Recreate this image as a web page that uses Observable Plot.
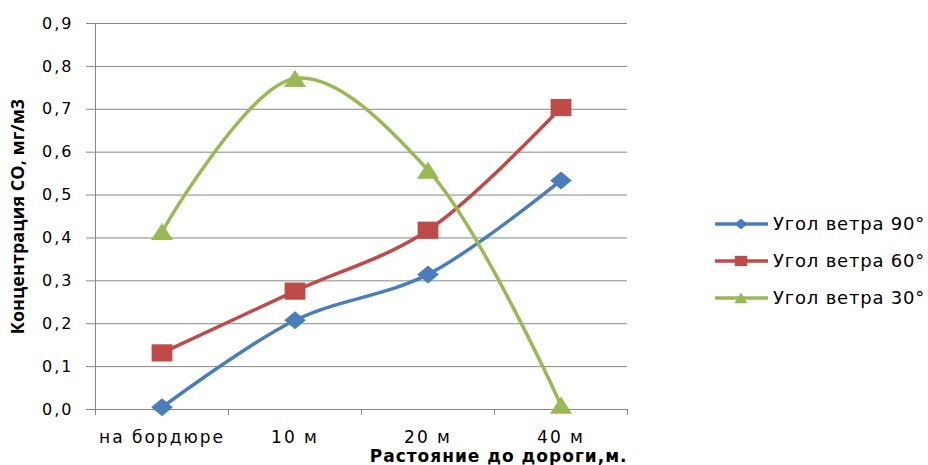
<!DOCTYPE html>
<html>
<head>
<meta charset="utf-8">
<script src="https://cdn.jsdelivr.net/npm/d3@7"></script>
<script src="https://cdn.jsdelivr.net/npm/@observablehq/plot@0.6"></script>
<style>
  html, body { margin: 0; padding: 0; background: #fff; }
  #chart { position: relative; width: 928px; height: 465px; overflow: hidden; }
  #chart g[aria-label="y-axis tick label"] { letter-spacing: 2px; }
  #chart g[aria-label="x-axis tick label"] { letter-spacing: 2px; }
  #chart .x-title { letter-spacing: 1px; }
  .legend { position: absolute; left: 714px; top: 205px; font-family: "DejaVu Sans", sans-serif; font-size: 18px; letter-spacing: 0.8px; color: #000; }
  .legend .item { display: flex; align-items: center; height: 37px; white-space: nowrap; }
  .legend svg { display: block; margin-right: 3px; }
</style>
</head>
<body>
<div id="chart"></div>
<script>
// Distance categories along the road profile
const categories = ["на бордюре", "10 м", "20 м", "40 м"];

// CO concentration, mg/m3, for each wind angle
const wind90 = [0.005, 0.208, 0.315, 0.534];
const wind60 = [0.132, 0.276, 0.418, 0.704];
const wind30 = [0.415, 0.772, 0.558, 0.010];

const seriesNames = ["Угол ветра 90°", "Угол ветра 60°", "Угол ветра 30°"];
const seriesValues = [wind90, wind60, wind30];
const seriesColors = ["#4A7EBB", "#BE4B48", "#98B954"];

// Axis ticks
const yTicks = [0, 0.1, 0.2, 0.3, 0.4, 0.5, 0.6, 0.7, 0.8, 0.9];
const categoryBounds = [-0.5, 0.5, 1.5, 2.5, 3.5];

const yTitle = "Концентрация CO, мг/м3";
const xTitle = "Растояние до дороги,м.";

// Marker shapes (slightly wider than tall), scaled by the dot radius
function shape(kind, w, h) {
  return {
    draw(ctx, size) {
      const k = Math.sqrt(size / Math.PI);
      const a = w * k, b = h * k;
      if (kind === "diamond") {
        ctx.moveTo(0, -b); ctx.lineTo(a, 0); ctx.lineTo(0, b); ctx.lineTo(-a, 0); ctx.closePath();
      } else if (kind === "square") {
        ctx.rect(-a, -b, 2 * a, 2 * b);
      } else {
        ctx.moveTo(0, -b); ctx.lineTo(a, b); ctx.lineTo(-a, b); ctx.closePath();
      }
    }
  };
}
const markerShapes = [shape("diamond", 10.8, 9), shape("square", 10.4, 8.6), shape("triangle", 11, 8.6)];

const rows = seriesNames.map((name, s) =>
  categories.map((c, i) => ({name, category: c, i, value: seriesValues[s][i]}))
);

const gridColor = "#878787";
const fmt = d => d.toFixed(1).replace(".", ",");

const seriesMarks = rows.flatMap((data, s) => [
  Plot.line(data, {x: "i", y: "value", stroke: seriesColors[s], strokeWidth: 3.5, curve: "catmull-rom"}),
  Plot.dot(data, {x: "i", y: "value", fill: seriesColors[s], r: 1, symbol: markerShapes[s]})
]);

const chart = Plot.plot({
  width: 928,
  height: 465,
  marginLeft: 95,
  marginRight: 301,
  marginTop: 23,
  marginBottom: 56,
  style: {fontFamily: "DejaVu Sans", background: "#fff", color: "#000"},
  x: {type: "linear", domain: [-0.5, 3.5]},
  y: {domain: [0, 0.9]},
  marks: [
    Plot.ruleY(yTicks, {stroke: gridColor, strokeWidth: 1, insetLeft: -9}),
    Plot.ruleX([-0.5], {stroke: gridColor, strokeWidth: 1}),
    Plot.axisY(yTicks, {tickSize: 0, tickPadding: 22, tickFormat: fmt, fontSize: 16, label: null}),
    Plot.axisX(categoryBounds, {tickSize: 6, stroke: gridColor, tickFormat: () => "", label: null}),
    Plot.axisX(categories.map((c, i) => i), {tickSize: 0, tickPadding: 21, tickFormat: i => categories[i], fontSize: 17, label: null}),
    Plot.text([yTitle], {frameAnchor: "left", textAnchor: "middle", lineAnchor: "middle", rotate: -90, dx: -77, fontSize: 18, fontWeight: "bold", fontFamily: "Liberation Sans Narrow, Open Sans, sans-serif"}),
    Plot.text([xTitle], {frameAnchor: "bottom-right", textAnchor: "end", lineAnchor: "bottom", dy: 52, fontSize: 17, fontWeight: "bold", className: "x-title"}),
    ...seriesMarks
  ]
});

const root = document.getElementById("chart");
root.appendChild(chart);

// Legend on the right
const legend = document.createElement("div");
legend.className = "legend";
seriesNames.forEach((name, s) => {
  const item = document.createElement("div");
  item.className = "item";
  const sw = d3.create("svg").attr("width", 56).attr("height", 20);
  sw.append("line").attr("x1", 1).attr("x2", 54).attr("y1", 10).attr("y2", 10)
    .attr("stroke", seriesColors[s]).attr("stroke-width", 3.5);
  sw.append("path").attr("transform", "translate(27,10)")
    .attr("d", d3.symbol(markerShapes[s], Math.PI * 0.6 * 0.6)())
    .attr("fill", seriesColors[s]);
  item.appendChild(sw.node());
  const label = document.createElement("span");
  label.textContent = name;
  item.appendChild(label);
  legend.appendChild(item);
});
root.appendChild(legend);
</script>
</body>
</html>
